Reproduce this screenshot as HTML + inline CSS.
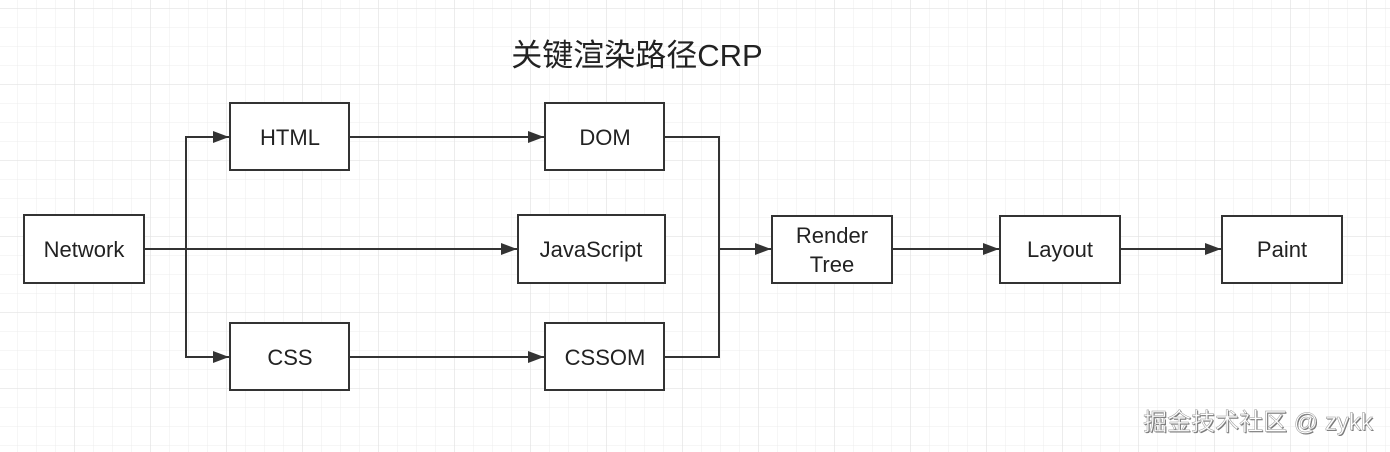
<!DOCTYPE html>
<html><head><meta charset="utf-8"><style>
html,body{margin:0;padding:0;width:1390px;height:452px;overflow:hidden;background:#fff}
svg text{font-family:"Liberation Sans","Noto Sans CJK SC",sans-serif;fill:#222}
</style></head><body>
<svg width="1390" height="452" viewBox="0 0 1390 452" xmlns="http://www.w3.org/2000/svg">
<defs>
<pattern id="g" x="-2" y="8" width="19" height="19" patternUnits="userSpaceOnUse">
<path d="M0 0H19M0 0V19" stroke="#ececec" stroke-width="1" fill="none"/>
</pattern>
<pattern id="G" x="-2" y="8" width="76" height="76" patternUnits="userSpaceOnUse">
<path d="M0 0H76M0 0V76" stroke="#e2e2e2" stroke-width="1.3" fill="none"/>
</pattern>
<marker id="a" markerWidth="16" markerHeight="12" refX="16" refY="6" orient="auto" markerUnits="userSpaceOnUse">
<path d="M0 0L16 6L0 12Z" fill="#333"/>
</marker>
</defs>
<rect width="1390" height="452" fill="url(#g)"/>
<rect width="1390" height="452" fill="url(#G)"/>
<text x="637" y="66" font-size="31" text-anchor="middle">关键渲染路径CRP</text>
<g stroke="#333" stroke-width="2" fill="none">
<path d="M144 249H186V137H229" marker-end="url(#a)"/>
<path d="M186 249V357H229" marker-end="url(#a)"/>
<path d="M144 249H517" marker-end="url(#a)"/>
<path d="M349 137H544" marker-end="url(#a)"/>
<path d="M349 357H544" marker-end="url(#a)"/>
<path d="M664 137H719V357H664"/>
<path d="M719 249H771" marker-end="url(#a)"/>
<path d="M892 249H999" marker-end="url(#a)"/>
<path d="M1120 249H1221" marker-end="url(#a)"/>
</g>
<g stroke="#333" stroke-width="2" fill="#fff">
<rect x="24" y="215" width="120" height="68"/>
<rect x="230" y="103" width="119" height="67"/>
<rect x="545" y="103" width="119" height="67"/>
<rect x="518" y="215" width="147" height="68"/>
<rect x="230" y="323" width="119" height="67"/>
<rect x="545" y="323" width="119" height="67"/>
<rect x="772" y="216" width="120" height="67"/>
<rect x="1000" y="216" width="120" height="67"/>
<rect x="1222" y="216" width="120" height="67"/>
</g>
<g font-size="22" text-anchor="middle">
<text x="84" y="257">Network</text>
<text x="290" y="145">HTML</text>
<text x="605" y="145">DOM</text>
<text x="591" y="257">JavaScript</text>
<text x="290" y="365">CSS</text>
<text x="605" y="365">CSSOM</text>
<text x="832" y="243">Render</text>
<text x="832" y="272">Tree</text>
<text x="1060" y="257">Layout</text>
<text x="1282" y="257">Paint</text>
</g>
<text x="1259" y="431" font-size="24" text-anchor="middle" style="fill:#777">掘金技术社区 @ zykk</text>
<text x="1258" y="430" font-size="24" text-anchor="middle" style="fill:#fff;stroke:#999;stroke-width:0.5">掘金技术社区 @ zykk</text>
</svg>
</body></html>
